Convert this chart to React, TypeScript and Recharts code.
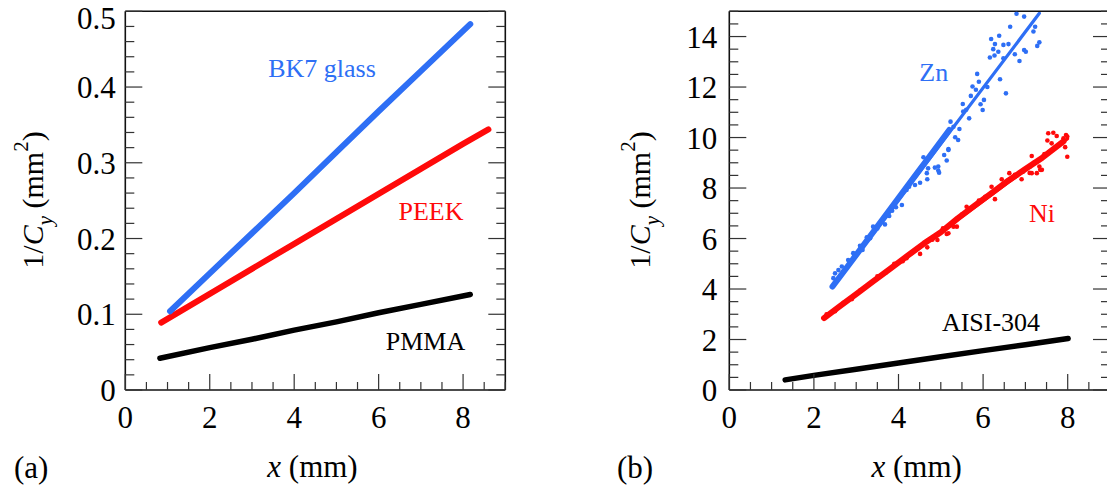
import { ComposedChart, Line, Scatter, XAxis, YAxis } from "recharts";

const FONT = '"Liberation Serif", "Times New Roman", serif';
const BLUE = "#2e6ff5";
const RED = "#ff0a0a";
const BLACK = "#000000";

// panel (a)
const xMajorTicks = [0, 2, 4, 6, 8];
const aYMajorTicks = [0, 0.1, 0.2, 0.3, 0.4, 0.5];
const bk7 = [
  { x: 1.06, y: 0.104 }, { x: 2, y: 0.154 }, { x: 3, y: 0.207 }, { x: 4, y: 0.26 },
  { x: 5, y: 0.314 }, { x: 6, y: 0.368 }, { x: 7, y: 0.421 }, { x: 8.17, y: 0.483 },
];
const peek = [
  { x: 0.85, y: 0.089 }, { x: 2, y: 0.127 }, { x: 3, y: 0.16 }, { x: 4, y: 0.193 },
  { x: 5, y: 0.226 }, { x: 6, y: 0.259 }, { x: 7, y: 0.292 }, { x: 8, y: 0.325 }, { x: 8.6, y: 0.344 },
];
const pmma = [
  { x: 0.82, y: 0.042 }, { x: 2, y: 0.056 }, { x: 3, y: 0.067 }, { x: 4, y: 0.079 },
  { x: 5, y: 0.09 }, { x: 6, y: 0.102 }, { x: 7, y: 0.113 }, { x: 8.17, y: 0.126 },
];

// panel (b)
const bYMajorTicks = [0, 2, 4, 6, 8, 10, 12, 14];
const znBand = [
  { x: 2.44, y: 4.1 }, { x: 2.8, y: 4.9 }, { x: 3.2, y: 5.8 }, { x: 3.6, y: 6.7 },
  { x: 4.0, y: 7.6 }, { x: 4.4, y: 8.5 }, { x: 4.8, y: 9.4 }, { x: 5.2, y: 10.3 },
];
const znFit = [{ x: 2.44, y: 4.07 }, { x: 7.33, y: 14.92 }];
const znPoints = [
  { x: 6.79, y: 14.9 }, { x: 6.97, y: 14.79 }, { x: 6.64, y: 14.39 }, { x: 7.23, y: 14.39 },
  { x: 7.19, y: 14.2 }, { x: 6.38, y: 14.03 }, { x: 6.19, y: 13.9 }, { x: 6.28, y: 13.7 },
  { x: 6.48, y: 13.67 }, { x: 6.6, y: 13.7 }, { x: 7.33, y: 13.77 }, { x: 7.28, y: 13.63 },
  { x: 6.24, y: 13.5 }, { x: 6.36, y: 13.4 }, { x: 6.16, y: 13.17 }, { x: 6.27, y: 13.25 },
  { x: 6.75, y: 13.3 }, { x: 6.97, y: 13.47 }, { x: 7.01, y: 13.4 }, { x: 6.86, y: 13.03 },
  { x: 6.48, y: 13.14 }, { x: 5.86, y: 12.52 }, { x: 5.9, y: 12.21 }, { x: 6.4, y: 12.31 },
  { x: 5.75, y: 12.02 }, { x: 5.83, y: 11.89 }, { x: 6.54, y: 11.75 }, { x: 5.71, y: 11.65 },
  { x: 6.02, y: 11.49 }, { x: 5.94, y: 11.32 }, { x: 5.99, y: 11.09 }, { x: 5.52, y: 11.33 },
  { x: 5.53, y: 11.03 }, { x: 5.23, y: 10.63 }, { x: 5.67, y: 10.76 }, { x: 5.44, y: 10.34 },
  { x: 5.3, y: 10.43 }, { x: 5.34, y: 10.01 }, { x: 5.41, y: 9.9 }, { x: 5.18, y: 9.54 },
  { x: 5.18, y: 9.51 }, { x: 5.08, y: 9.31 }, { x: 5.14, y: 9.09 }, { x: 4.94, y: 8.85 },
  { x: 4.86, y: 8.81 }, { x: 4.96, y: 8.61 }, { x: 4.67, y: 8.59 }, { x: 4.68, y: 8.35 },
  { x: 4.59, y: 9.22 }, { x: 4.51, y: 8.21 }, { x: 4.39, y: 8.12 }, { x: 4.19, y: 7.92 },
  { x: 4.08, y: 7.33 }, { x: 3.94, y: 7.24 }, { x: 3.78, y: 6.89 }, { x: 3.68, y: 6.56 },
  { x: 3.4, y: 6.47 }, { x: 3.33, y: 6.01 }, { x: 3.25, y: 6.05 }, { x: 3.09, y: 5.71 },
  { x: 2.93, y: 5.42 }, { x: 2.81, y: 5.15 }, { x: 2.66, y: 4.89 }, { x: 2.5, y: 4.62 },
  { x: 2.46, y: 4.43 }, { x: 2.58, y: 4.75 }, { x: 4.7, y: 8.78 }, { x: 4.94, y: 8.69 },
  { x: 2.7, y: 4.7 }, { x: 2.95, y: 5.3 }, { x: 3.15, y: 5.55 }, { x: 3.5, y: 6.4 },
  { x: 3.85, y: 7.1 }, { x: 4.25, y: 8.05 }, { x: 5.6, y: 11.1 }, { x: 6.1, y: 12.0 },
];
const niBand = [
  { x: 2.24, y: 2.85 }, { x: 2.6, y: 3.3 }, { x: 3.0, y: 3.8 }, { x: 3.4, y: 4.3 },
  { x: 3.8, y: 4.8 }, { x: 4.2, y: 5.3 }, { x: 4.6, y: 5.8 }, { x: 5.0, y: 6.25 },
  { x: 5.4, y: 6.8 }, { x: 5.8, y: 7.3 }, { x: 6.2, y: 7.8 }, { x: 6.6, y: 8.3 },
  { x: 7.0, y: 8.75 }, { x: 7.4, y: 9.2 }, { x: 7.9, y: 9.85 },
];
const niFit = [{ x: 2.24, y: 2.84 }, { x: 8.0, y: 9.95 }];
const niPoints = [
  { x: 7.54, y: 10.17 }, { x: 7.66, y: 10.19 }, { x: 7.74, y: 10.06 }, { x: 7.52, y: 9.88 },
  { x: 7.62, y: 9.77 }, { x: 7.82, y: 9.75 }, { x: 7.96, y: 10.1 }, { x: 7.99, y: 10.04 },
  { x: 7.9, y: 9.97 }, { x: 7.99, y: 9.24 }, { x: 7.94, y: 9.62 }, { x: 7.15, y: 9.27 },
  { x: 7.11, y: 8.85 }, { x: 7.33, y: 8.85 }, { x: 7.27, y: 8.59 }, { x: 7.39, y: 8.72 },
  { x: 7.15, y: 8.59 }, { x: 6.91, y: 8.35 }, { x: 6.75, y: 8.52 }, { x: 6.62, y: 8.59 },
  { x: 6.28, y: 7.56 }, { x: 6.2, y: 8.05 }, { x: 6.44, y: 8.35 }, { x: 5.61, y: 7.26 },
  { x: 5.38, y: 6.47 }, { x: 5.14, y: 6.18 }, { x: 4.92, y: 5.94 }, { x: 4.68, y: 5.65 },
  { x: 4.51, y: 5.39 }, { x: 4.19, y: 5.22 }, { x: 5.18, y: 6.21 }, { x: 5.3, y: 6.47 },
  { x: 7.35, y: 8.72 }, { x: 7.1, y: 8.6 },
  { x: 2.3, y: 3.0 }, { x: 2.5, y: 3.12 }, { x: 2.7, y: 3.45 }, { x: 2.9, y: 3.6 },
  { x: 3.1, y: 3.95 }, { x: 3.5, y: 4.5 }, { x: 3.7, y: 4.65 }, { x: 3.9, y: 5.0 },
  { x: 4.1, y: 5.1 }, { x: 4.3, y: 5.42 }, { x: 4.45, y: 5.6 }, { x: 4.8, y: 5.95 },
  { x: 5.05, y: 6.4 }, { x: 5.5, y: 6.95 }, { x: 5.7, y: 7.2 }, { x: 5.9, y: 7.5 },
  { x: 6.05, y: 7.65 }, { x: 6.35, y: 8.0 }, { x: 6.5, y: 8.2 }, { x: 6.8, y: 8.5 },
  { x: 6.95, y: 8.65 }, { x: 7.2, y: 9.0 }, { x: 7.45, y: 9.35 }, { x: 7.7, y: 9.6 },
];
const aisi = [
  { x: 1.32, y: 0.4 }, { x: 2, y: 0.58 }, { x: 3, y: 0.82 }, { x: 4, y: 1.07 },
  { x: 5, y: 1.32 }, { x: 6, y: 1.56 }, { x: 7, y: 1.79 }, { x: 8.01, y: 2.04 },
];

// tick helpers
const range = (lo: number, hi: number, step: number) => {
  const out: number[] = [];
  for (let i = 0; lo + i * step <= hi + 1e-9; i++) out.push(+(lo + i * step).toFixed(4));
  return out;
};
const isMajor = (v: number, majors: number[]) => majors.some((m) => Math.abs(m - v) < 1e-6);
const fmt = (v: number) => String(+v.toFixed(2));

const TICK_COLOR = "#333";
const labelStyle = { fontFamily: FONT };

function makeTick(side: string, majors: number[], opts: { len: number; minor: number; labelOff?: number; label?: boolean; top?: number }) {
  return (props: any) => {
    const { x, y, payload } = props;
    const v = payload.value;
    const major = isMajor(v, majors);
    const len = major ? opts.len : opts.minor;
    const showLabel = opts.label && major;
    if (side === "bottom") {
      return (
        <g>
          <line x1={x} x2={x} y1={y} y2={y - len} stroke={TICK_COLOR} strokeWidth={1.2} />
          {showLabel && (
            <text x={x} y={y + 38} textAnchor="middle" fontSize={31} style={labelStyle} fill="#000">
              {fmt(v)}
            </text>
          )}
        </g>
      );
    }
    if (side === "top") {
      return <line x1={x} x2={x} y1={y} y2={y + len} stroke={TICK_COLOR} strokeWidth={1.2} />;
    }
    if (side === "left") {
      // the label at the very top is pushed down so it stays on the page
      const dy = opts.top !== undefined && Math.abs(v - opts.top) < 1e-6 ? 18 : 11;
      return (
        <g>
          <line x1={x} x2={x + len} y1={y} y2={y} stroke={TICK_COLOR} strokeWidth={1.2} />
          {showLabel && (
            <text x={x - (opts.labelOff ?? 9)} y={y + dy} textAnchor="end" fontSize={31} style={labelStyle} fill="#000">
              {fmt(v)}
            </text>
          )}
        </g>
      );
    }
    return <line x1={x} x2={x - len} y1={y} y2={y} stroke={TICK_COLOR} strokeWidth={1.2} />;
  };
}

const dot = (color: string) => (p: any) => <circle cx={p.cx} cy={p.cy} r={2.3} fill={color} />;

const axisLine = { stroke: "#111", strokeWidth: 1.6 };

// axes take 1px each; margins below are shrunk by that 1px
function Frame(yDomain: number[], yMajors: number[], yMinorStep: number, labelOff: number) {
  const xTicks = range(0, 9, 0.5);
  const yTicks = range(yDomain[0], yDomain[1], yMinorStep);
  return [
    <XAxis key="xb" xAxisId={0} type="number" dataKey="x" domain={[0, 9]} ticks={xTicks} interval={0}
      height={1} tickSize={0} tickMargin={0} tickLine={false} axisLine={axisLine} allowDataOverflow
      tick={makeTick("bottom", xMajorTicks, { len: 16, minor: 8, label: true })} />,
    <XAxis key="xt" xAxisId="t" orientation="top" type="number" domain={[0, 9]} ticks={xTicks} interval={0}
      height={1} tickSize={0} tickMargin={0} tickLine={false} axisLine={axisLine} allowDataOverflow
      tick={makeTick("top", xMajorTicks, { len: 16, minor: 8 })} />,
    <YAxis key="yl" yAxisId={0} type="number" dataKey="y" domain={yDomain} ticks={yTicks} interval={0}
      width={1} tickSize={0} tickMargin={0} tickLine={false} axisLine={axisLine} allowDataOverflow
      tick={makeTick("left", yMajors, { len: 17, minor: 9, label: true, labelOff, top: yDomain[1] })} />,
    <YAxis key="yr" yAxisId="r" orientation="right" type="number" domain={yDomain} ticks={yTicks} interval={0}
      width={1} tickSize={0} tickMargin={0} tickLine={false} axisLine={axisLine} allowDataOverflow
      tick={makeTick("right", yMajors, { len: 17, minor: 9 })} />,
  ];
}

function band(key: string, data: any[], color: string, width: number) {
  return (
    <Line key={key} data={data} dataKey="y" type="linear" stroke={color} strokeWidth={width}
      strokeLinecap="round" strokeLinejoin="round" dot={false} isAnimationActive={false} />
  );
}

function YTitle({ x, y }: { x: number; y: number }) {
  return (
    <text transform={`rotate(-90 ${x} ${y})`} x={x} y={y} textAnchor="middle" fontSize={30} style={labelStyle} fill="#000">
      1/<tspan fontStyle="italic">C</tspan>
      <tspan fontStyle="italic" fontSize={21} dy={9}>y</tspan>
      <tspan dy={-9}> (mm</tspan>
      <tspan fontSize={21} dy={-15}>2</tspan>
      <tspan dy={15}>)</tspan>
    </text>
  );
}

export default function App() {
  return (
    <div style={{ position: "fixed", left: 0, top: 0, width: 1107, height: 497, overflow: "hidden", background: "#fff" }}>
      <div style={{ position: "absolute", left: 0, top: 0 }}>
        <ComposedChart width={520} height={497} margin={{ top: 10.3, right: 13.7, bottom: 106, left: 124.3 }}>
          {Frame([0, 0.5], aYMajorTicks, 0.02, 9.5)}
          {band("pmma", pmma, BLACK, 5.5)}
          {band("peek", peek, RED, 6)}
          {band("bk7", bk7, BLUE, 6)}
        </ComposedChart>
      </div>
      <div style={{ position: "absolute", left: 600, top: 0 }}>
        <ComposedChart width={520} height={497} margin={{ top: 10.3, right: 9, bottom: 106, left: 128.3 }}>
          {Frame([0, 15], bYMajorTicks, 0.5, 12)}
          {band("aisi", aisi, BLACK, 5.5)}
          {band("niBand", niBand, RED, 6)}
          {band("niFit", niFit, RED, 3)}
          <Scatter data={niPoints} dataKey="y" fill={RED} shape={dot(RED)} isAnimationActive={false} />
          {band("znBand", znBand, BLUE, 6)}
          {band("znFit", znFit, BLUE, 3.2)}
          <Scatter data={znPoints} dataKey="y" fill={BLUE} shape={dot(BLUE)} isAnimationActive={false} />
        </ComposedChart>
      </div>
      <svg width={1107} height={497} style={{ position: "absolute", left: 0, top: 0, pointerEvents: "none", fontFamily: FONT }}>
        <YTitle x={42.7} y={200} />
        <YTitle x={650} y={200} />
        <text x={312.5} y={477} textAnchor="middle" fontSize={31}>
          <tspan fontStyle="italic">x</tspan> (mm)
        </text>
        <text x={916.7} y={477} textAnchor="middle" fontSize={31}>
          <tspan fontStyle="italic">x</tspan> (mm)
        </text>
        <text x={14} y={477.7} fontSize={31}>(a)</text>
        <text x={617} y={477.7} fontSize={31}>(b)</text>
        <text x={322} y={77.3} textAnchor="middle" fontSize={26} fill={BLUE}>BK7 glass</text>
        <text x={431} y={220} textAnchor="middle" fontSize={26} fill={RED}>PEEK</text>
        <text x={425.5} y={350} textAnchor="middle" fontSize={26} fill="#000">PMMA</text>
        <text x={933.8} y={80.7} textAnchor="middle" fontSize={26} fill={BLUE}>Zn</text>
        <text x={1042} y={221.7} textAnchor="middle" fontSize={26} fill={RED}>Ni</text>
        <text x={991} y={330.7} textAnchor="middle" fontSize={26} fill="#000">AISI-304</text>
      </svg>
    </div>
  );
}
